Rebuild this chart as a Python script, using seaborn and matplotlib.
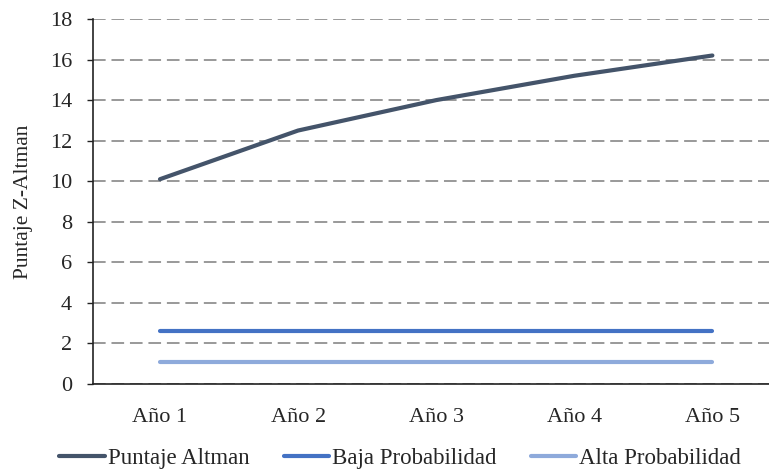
import matplotlib
matplotlib.use("Agg")
import matplotlib.pyplot as plt
import seaborn as sns
import pandas as pd

years = ["Año 1", "Año 2", "Año 3", "Año 4", "Año 5"]
altman = [10.1, 12.5, 14.0, 15.2, 16.2]
baja = [2.6, 2.6, 2.6, 2.6, 2.6]
alta = [1.1, 1.1, 1.1, 1.1, 1.1]
series_names = ["Puntaje Altman", "Baja Probabilidad", "Alta Probabilidad"]
colors = ["#44546A", "#4472C4", "#8EAADB"]

sns.set_style("white")
plt.rcParams["font.family"] = ["Liberation Serif", "DejaVu Serif"]

df = pd.concat([
    pd.DataFrame({"Año": years, "Valor": vals, "Serie": name})
    for name, vals in zip(series_names, [altman, baja, alta])
])

fig = plt.figure(figsize=(7.69, 4.70), dpi=100)
ax = fig.add_axes([93 / 769, 1 - 384 / 470, (769 - 93) / 769, (384 - 19) / 470])

sns.lineplot(data=df, x="Año", y="Valor", hue="Serie", palette=colors,
             hue_order=series_names, sort=False, linewidth=3.0, ax=ax,
             legend=True)
for ln in ax.lines:
    ln.set_solid_capstyle("round")

ax.set_xlim(-0.485, 4.41)
ax.set_ylim(0, 18)
ax.set_yticks(range(0, 19, 2))
ax.yaxis.grid(True, color="#999999", linestyle=(0, (6.5, 3)), linewidth=1.4)
ax.xaxis.grid(False)
ax.set_axisbelow(True)
for s in ["top", "right"]:
    ax.spines[s].set_visible(False)
for s in ["left", "bottom"]:
    ax.spines[s].set_color("#222222")
    ax.spines[s].set_linewidth(1.2)
ax.tick_params(axis="y", which="both", left=True, length=4, width=1, labelsize=16, pad=11, color="#222222")
ax.tick_params(axis="x", bottom=False, labelsize=16, pad=14)
ax.set_xlabel("")
ax.set_ylabel("Puntaje Z-Altman", fontsize=15.5, labelpad=12)

ax.legend(loc="center", bbox_to_anchor=((400 - 93) / 676, -0.205),
          ncol=3, frameon=False, fontsize=16.5, handlelength=2.0,
          handletextpad=0.1, columnspacing=1.5, borderaxespad=0)

fig.savefig("out.png", dpi=100)
